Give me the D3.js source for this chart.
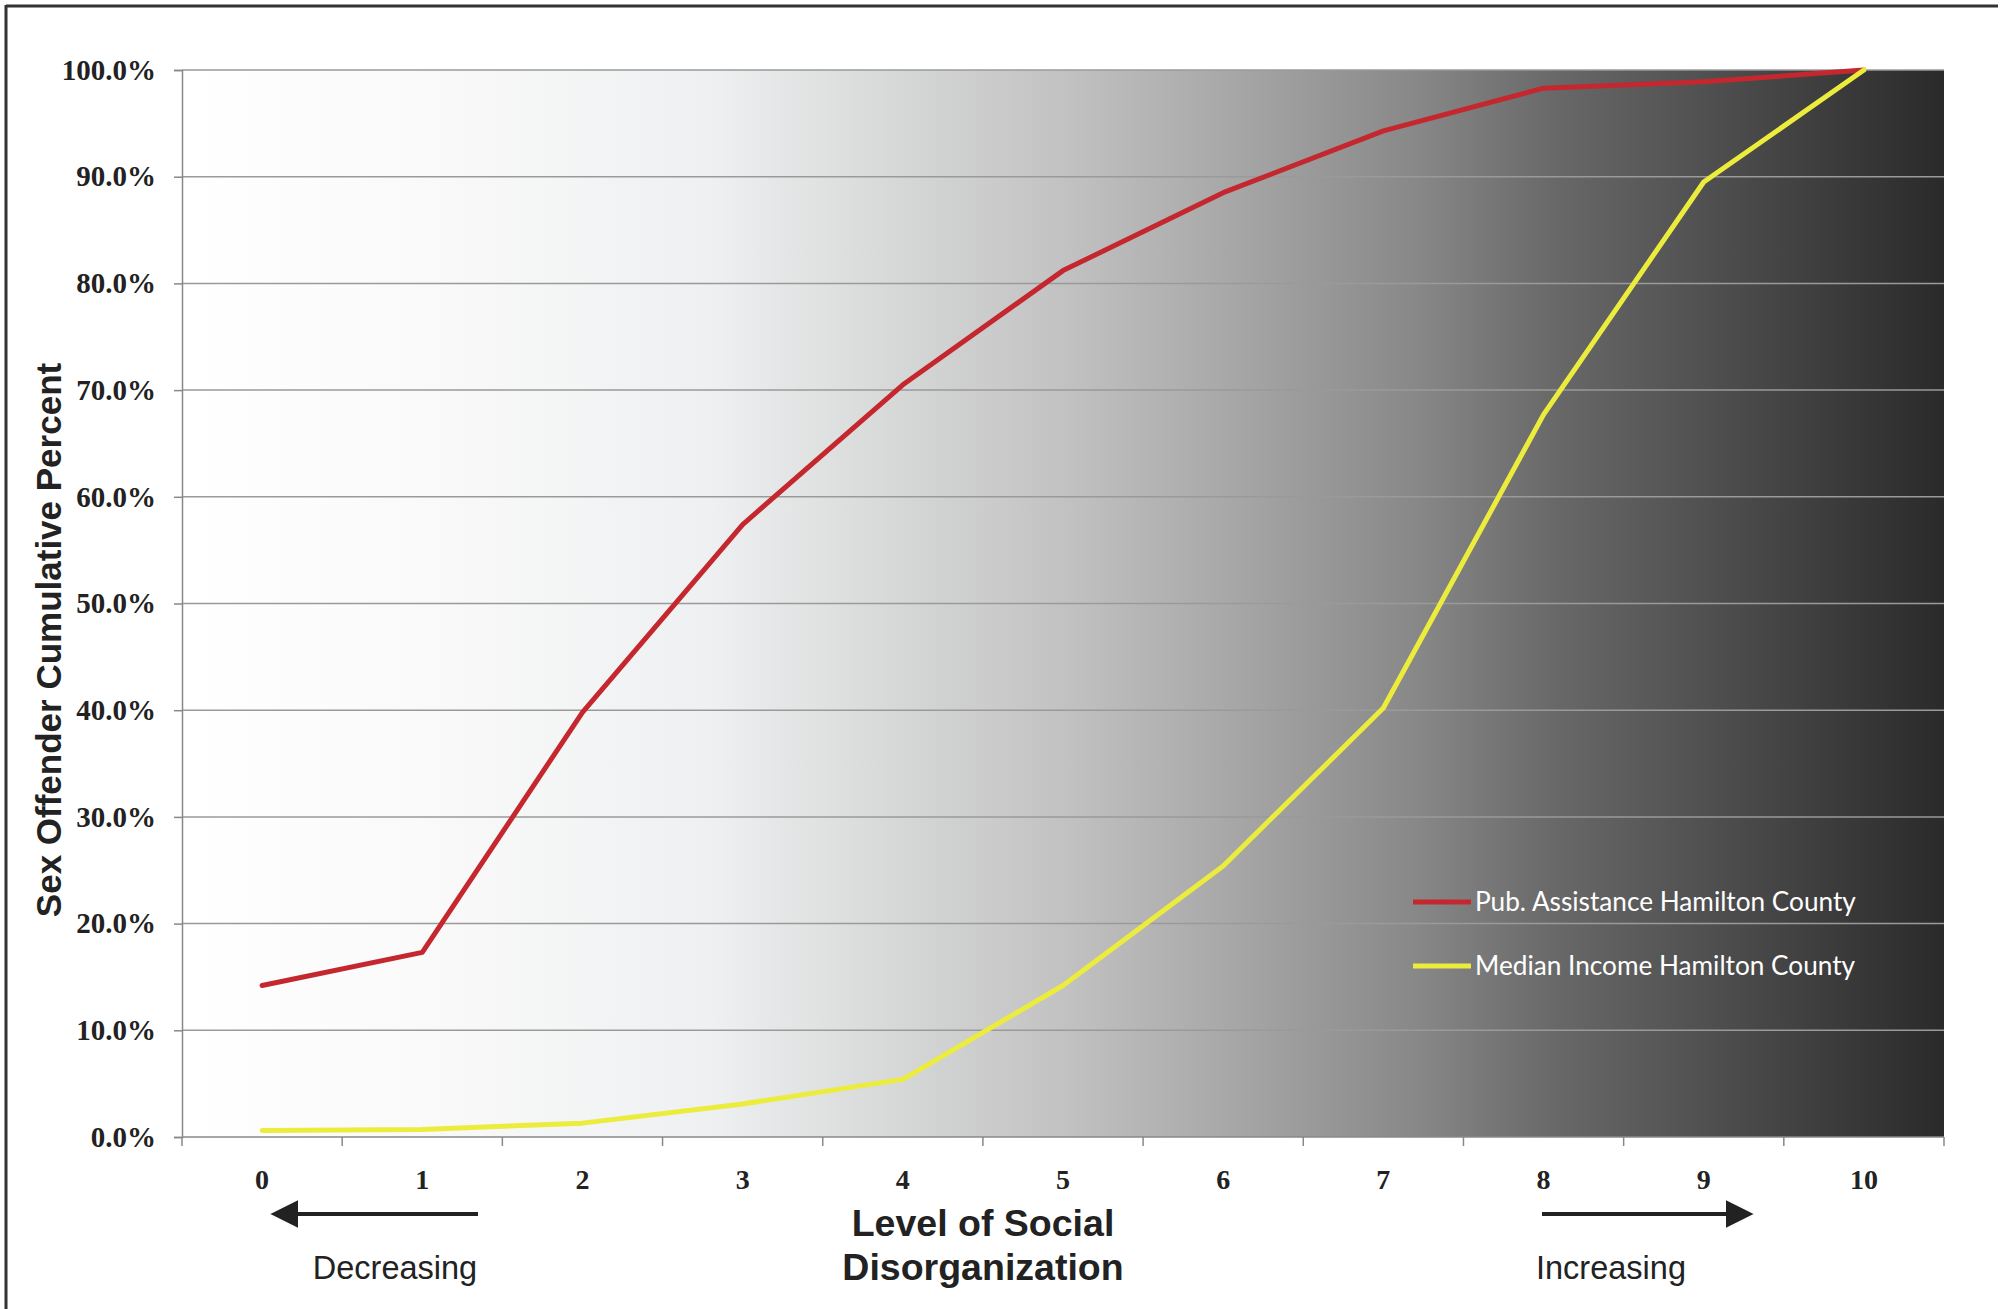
<!DOCTYPE html>
<html>
<head>
<meta charset="utf-8">
<script src="https://cdn.jsdelivr.net/npm/d3@7"></script>
<style>
  body { margin: 0; background: #fff; }
  svg { display: block; }
</style>
</head>
<body>
<div id="chart"></div>
<script>
// levels of social disorganization
const levels = [0, 1, 2, 3, 4, 5, 6, 7, 8, 9, 10];
// cumulative percent of sex offenders
const pubAssistance = [14.2, 17.3, 39.8, 57.4, 70.5, 81.2, 88.5, 94.3, 98.3, 98.9, 100];
const medianIncome = [0.6, 0.7, 1.3, 3.1, 5.4, 14.2, 25.4, 40.2, 67.7, 89.5, 100];
const yTicks = [0, 10, 20, 30, 40, 50, 60, 70, 80, 90, 100];
const seriesNames = ["Pub. Assistance Hamilton County", "Median Income Hamilton County"];
const seriesColors = ["#c4282e", "#ecec3c"];

const width = 2000, height = 1309;
const margin = { left: 182, right: 56, top: 70, bottom: 172 };

const svg = d3.select("#chart").append("svg")
  .attr("width", width)
  .attr("height", height);

// frame (top + left edge of the scanned figure)
svg.append("line").attr("x1", 6).attr("x2", 1998).attr("y1", 6).attr("y2", 6)
  .attr("stroke", "#333").attr("stroke-width", 3);
svg.append("line").attr("x1", 6).attr("x2", 6).attr("y1", 5).attr("y2", height)
  .attr("stroke", "#333").attr("stroke-width", 3);

const x = d3.scaleBand()
  .domain(levels)
  .range([margin.left, width - margin.right]);

const y = d3.scaleLinear()
  .domain([0, 100])
  .range([height - margin.bottom, margin.top]);

// background gradient
const grad = svg.append("defs").append("linearGradient")
  .attr("id", "bg").attr("x1", "0%").attr("x2", "100%").attr("y1", "0%").attr("y2", "0%");
[[0, "#ffffff"], [0.15, "#f9f9f9"], [0.3, "#eef0f1"], [0.38, "#dcdddd"], [0.5, "#c2c2c2"],
 [0.6, "#a6a6a6"], [0.7, "#888888"], [0.78, "#686868"], [0.9, "#464646"], [1, "#2a2a2a"]]
  .forEach(s => grad.append("stop").attr("offset", s[0]).attr("stop-color", s[1]));

svg.append("rect")
  .attr("x", margin.left).attr("y", margin.top)
  .attr("width", width - margin.right - margin.left)
  .attr("height", height - margin.bottom - margin.top)
  .attr("fill", "url(#bg)");

// gridlines
svg.append("g").selectAll("line")
  .data(yTicks.slice(1))
  .join("line")
  .attr("x1", margin.left).attr("x2", width - margin.right)
  .attr("y1", d => y(d)).attr("y2", d => y(d))
  .attr("stroke", "#9a9a9a").attr("stroke-width", 1.5);

// y axis
const yAxis = svg.append("g")
  .attr("transform", `translate(${margin.left},0)`)
  .call(d3.axisLeft(y).tickValues(yTicks).tickFormat(d => d.toFixed(1) + "%").tickSize(8).tickPadding(18));
yAxis.select(".domain").attr("stroke", "#888").attr("stroke-width", 1.5);
yAxis.selectAll(".tick line").attr("stroke", "#888").attr("stroke-width", 1.5);
yAxis.selectAll("text")
  .attr("font-family", "'Liberation Serif', 'Times New Roman', serif")
  .attr("font-weight", "bold").attr("font-size", 29).attr("fill", "#222");

// x axis: ticks between categories
const xAxis = svg.append("g")
  .attr("transform", `translate(0,${height - margin.bottom})`);
xAxis.append("line")
  .attr("x1", margin.left).attr("x2", width - margin.right)
  .attr("stroke", "#888").attr("stroke-width", 1.5);
xAxis.selectAll(".tk")
  .data(levels.concat([11]))
  .join("line")
  .attr("class", "tk")
  .attr("x1", d => d < 11 ? x(d) : x(10) + x.bandwidth())
  .attr("x2", d => d < 11 ? x(d) : x(10) + x.bandwidth())
  .attr("y1", 0).attr("y2", 9)
  .attr("stroke", "#888").attr("stroke-width", 1.5);
xAxis.selectAll(".lbl")
  .data(levels)
  .join("text")
  .attr("class", "lbl")
  .attr("x", d => x(d) + x.bandwidth() / 2)
  .attr("y", 52)
  .attr("text-anchor", "middle")
  .attr("font-family", "'Liberation Serif', 'Times New Roman', serif")
  .attr("font-weight", "bold").attr("font-size", 28).attr("fill", "#222")
  .text(d => d);

// lines
const line = d3.line()
  .x((d, i) => x(levels[i]) + x.bandwidth() / 2)
  .y(d => y(d));

[pubAssistance, medianIncome].forEach((s, i) => {
  svg.append("path")
    .datum(s)
    .attr("d", line)
    .attr("fill", "none")
    .attr("stroke", seriesColors[i])
    .attr("stroke-width", 5)
    .attr("stroke-linejoin", "round")
    .attr("stroke-linecap", "round");
});

// legend
const legend = svg.append("g").attr("transform", "translate(1413,902)");
seriesNames.forEach((n, i) => {
  const g = legend.append("g").attr("transform", `translate(0,${i * 64})`);
  g.append("line").attr("x1", 0).attr("x2", 58)
    .attr("stroke", seriesColors[i]).attr("stroke-width", 5);
  g.append("text").attr("x", 62).attr("y", 9)
    .attr("font-family", "Lato, 'Open Sans', sans-serif")
    .attr("font-size", 26.2).attr("fill", "#fff")
    .text(n);
});

// axis titles
svg.append("text")
  .attr("transform", "translate(61,640) rotate(-90)")
  .attr("text-anchor", "middle")
  .attr("font-family", "'Liberation Sans', Arial, sans-serif")
  .attr("font-weight", "bold").attr("font-size", 35).attr("fill", "#222")
  .text("Sex Offender Cumulative Percent");

const xt = svg.append("text")
  .attr("text-anchor", "middle")
  .attr("font-family", "'Liberation Sans', Arial, sans-serif")
  .attr("font-weight", "bold").attr("font-size", 37.5).attr("fill", "#222");
xt.append("tspan").attr("x", 983).attr("y", 1236).text("Level of Social");
xt.append("tspan").attr("x", 983).attr("y", 1280).text("Disorganization");

// direction arrows
const defs = svg.select("defs");
defs.append("marker")
  .attr("id", "ah").attr("viewBox", "0 0 10 10")
  .attr("refX", 8).attr("refY", 5)
  .attr("markerWidth", 7).attr("markerHeight", 7)
  .attr("markerUnits", "strokeWidth")
  .attr("orient", "auto")
  .append("path").attr("d", "M0,0 L10,5 L0,10 Z").attr("fill", "#222");

svg.append("line").attr("x1", 478).attr("x2", 276).attr("y1", 1214).attr("y2", 1214)
  .attr("stroke", "#222").attr("stroke-width", 4).attr("marker-end", "url(#ah)");
svg.append("line").attr("x1", 1542).attr("x2", 1748).attr("y1", 1214).attr("y2", 1214)
  .attr("stroke", "#222").attr("stroke-width", 4).attr("marker-end", "url(#ah)");

svg.append("text").attr("x", 395).attr("y", 1279).attr("text-anchor", "middle")
  .attr("font-family", "'Liberation Sans', Arial, sans-serif")
  .attr("font-size", 32.5).attr("fill", "#222").text("Decreasing");
svg.append("text").attr("x", 1611).attr("y", 1279).attr("text-anchor", "middle")
  .attr("font-family", "'Liberation Sans', Arial, sans-serif")
  .attr("font-size", 32.5).attr("fill", "#222").text("Increasing");
</script>
</body>
</html>
